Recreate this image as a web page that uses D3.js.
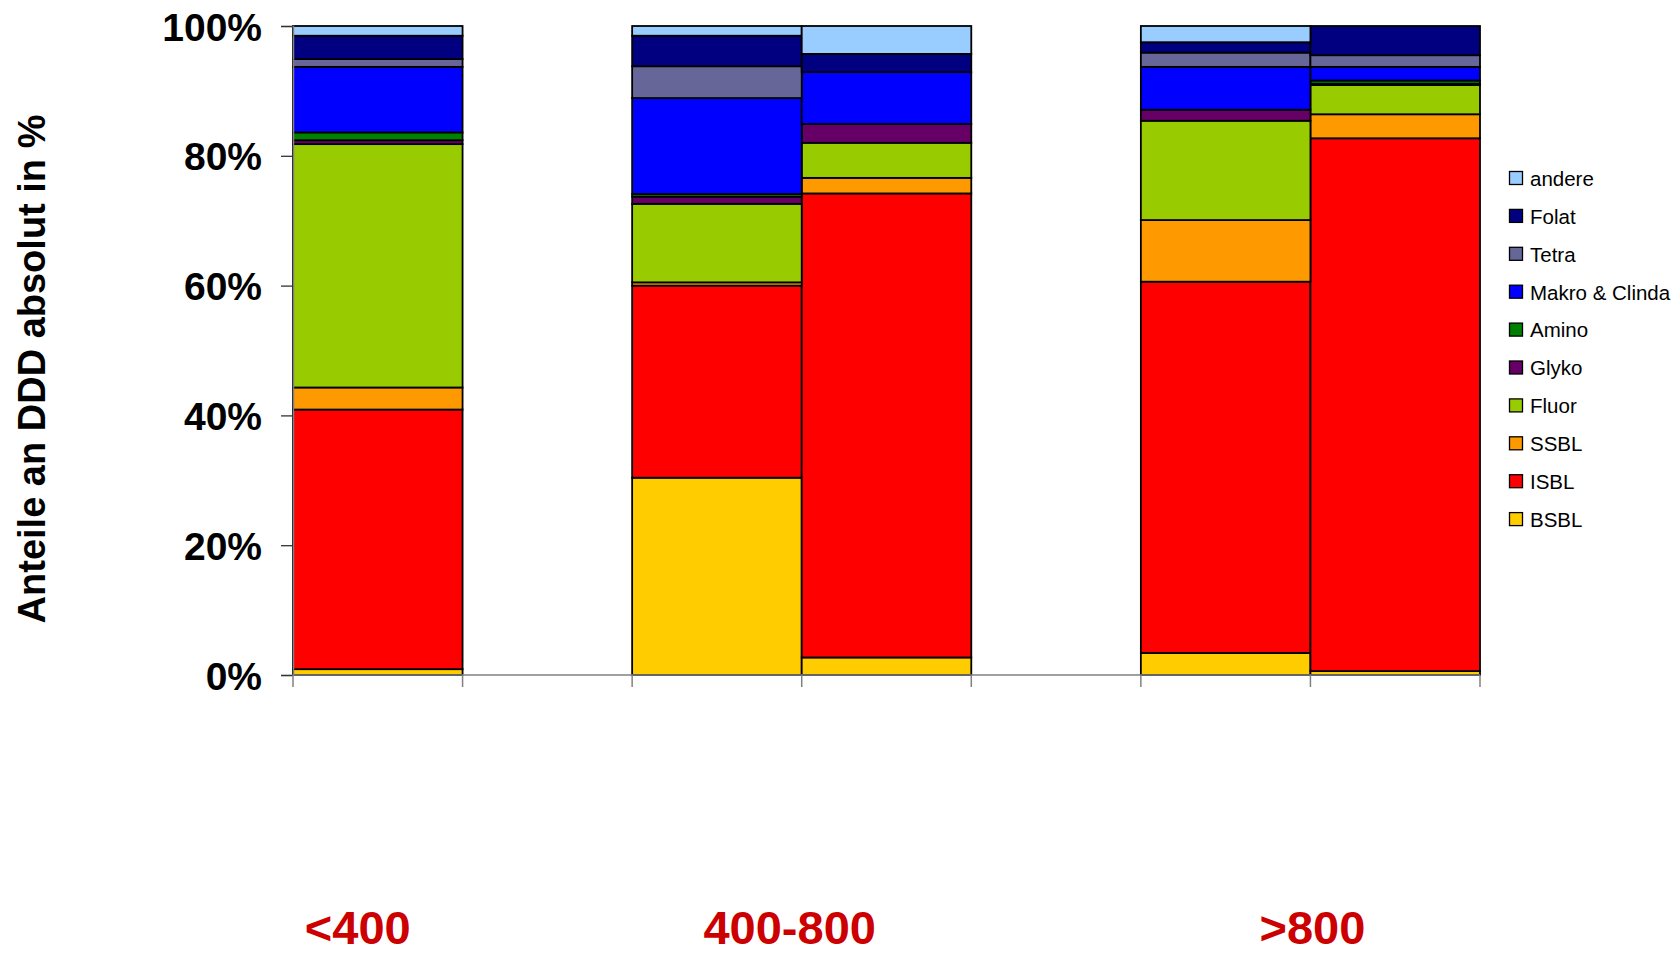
<!DOCTYPE html>
<html><head><meta charset="utf-8">
<script src="https://cdn.jsdelivr.net/npm/d3@7"></script>
<style>
body{margin:0;background:#fff;}
svg{display:block;font-family:"Liberation Sans",Arial,sans-serif;}
</style></head>
<body><svg id="c" width="1677" height="953"></svg>
<script>
// slots on the category axis (7 slots; slots 2 and 5 are empty)
const slots = ["1","2","3","4","5","6","7"];
const groupLabels = ["<400","400-800",">800"];
const groupSlots = [["1"],["3","4"],["6","7"]];
const yTicks = [0,0.2,0.4,0.6,0.8,1.0];
const seriesKeys = ["BSBL","ISBL","SSBL","Fluor","Glyko","Amino","Makro & Clinda","Tetra","Folat","andere"];
const seriesColors = ["#FFCC00","#FF0000","#FF9900","#99CC00","#660066","#008000","#0000FF","#666699","#000080","#99CCFF"];
// values in percent per slot (null = empty slot)
const BSBL   = [0.9, null, 30.4, 2.7, null, 3.4, 0.6];
const ISBL   = [40.0, null, 29.6, 71.5, null, 57.2, 82.1];
const SSBL   = [3.4, null, 0.5, 2.4, null, 9.5, 3.7];
const Fluor  = [37.5, null, 12.1, 5.4, null, 15.3, 4.5];
const Glyko  = [0.6, null, 1.1, 2.9, null, 1.7, 0.2];
const Amino  = [1.2, null, 0.4, 0, null, 0, 0.5];
const Makro  = [10.1, null, 14.8, 8.0, null, 6.6, 2.1];
const Tetra  = [1.2, null, 4.9, 0, null, 2.2, 1.8];
const Folat  = [3.6, null, 4.7, 2.8, null, 1.6, 4.5];
const andere = [1.5, null, 1.5, 4.3, null, 2.5, 0];
const seriesValues = [BSBL, ISBL, SSBL, Fluor, Glyko, Amino, Makro, Tetra, Folat, andere];

const svg = d3.select("#c");
const x = d3.scaleBand().domain(slots).range([293,1480]).padding(0);
const y = d3.scaleLinear().domain([0,1]).range([675,26]);
const color = d3.scaleOrdinal().domain(seriesKeys).range(seriesColors);

const table = slots.map((s,i)=>{
  const row = {slot:s, empty: seriesValues[0][i]===null};
  seriesKeys.forEach((k,j)=>{ row[k] = (seriesValues[j][i]||0)/100; });
  return row;
});
const stacked = d3.stack().keys(seriesKeys)(table.filter(d=>!d.empty));

// bars
const g = svg.append("g");
stacked.forEach(layer=>{
  g.selectAll(null).data(layer.filter(d=>d[1]-d[0]>0)).enter().append("rect")
    .attr("x", d=>x(d.data.slot))
    .attr("width", x.bandwidth())
    .attr("y", d=>y(d[1]))
    .attr("height", d=>y(d[0])-y(d[1]))
    .attr("fill", color(layer.key))
    .attr("stroke","#000").attr("stroke-width",1.8);
});

// y axis
const yAxis = svg.append("g").attr("transform","translate(293,0)")
  .call(d3.axisLeft(y).tickValues(yTicks).tickFormat(d3.format(".0%")).tickSize(12).tickPadding(19));
yAxis.select(".domain").attr("stroke","#808080").attr("stroke-width",1.5);
yAxis.selectAll(".tick line").attr("stroke","#333").attr("stroke-width",1.3);
yAxis.selectAll(".tick text").attr("font-size",39).attr("font-weight","bold")
  .attr("font-family","'Liberation Sans',Arial,sans-serif").attr("fill","#000").attr("dy","0.36em");

// x axis (ticks at slot boundaries)
const xAxisG = svg.append("g").attr("transform","translate(0,675)");
xAxisG.append("line").attr("x1",293).attr("x2",1480).attr("y1",0).attr("y2",0)
  .attr("stroke","#808080").attr("stroke-width",1.5);
const bounds = slots.map(s=>x(s)).concat([x(slots[slots.length-1])+x.bandwidth()]);
xAxisG.selectAll(null).data(bounds).enter().append("line")
  .attr("x1",d=>d).attr("x2",d=>d).attr("y1",0).attr("y2",12)
  .attr("stroke","#808080").attr("stroke-width",1.5);

// group labels
const labelOffsets = [-20, -12, 2];
groupLabels.forEach((lab,i)=>{
  const ss = groupSlots[i];
  const cx = (x(ss[0]) + x(ss[ss.length-1]) + x.bandwidth())/2 + labelOffsets[i];
  svg.append("text").attr("x",cx).attr("y",944).attr("text-anchor","middle")
    .attr("font-size",47).attr("font-weight","bold").attr("fill","#CC0000").text(lab);
});

// y label
svg.append("text").attr("transform","translate(45,369) rotate(-90)")
  .attr("text-anchor","middle").attr("font-size",38).attr("font-weight","bold")
  .text("Anteile an DDD absolut in %");

// legend
const legendKeys = seriesKeys.slice().reverse();
const lg = svg.append("g").attr("transform","translate(1509,171)");
legendKeys.forEach((k,i)=>{
  const row = lg.append("g").attr("transform",`translate(0,${i*37.9})`);
  row.append("rect").attr("x",0.5).attr("y",0.5).attr("width",13).attr("height",13)
    .attr("fill",color(k)).attr("stroke","#000").attr("stroke-width",1.3);
  row.append("text").attr("x",21).attr("y",7.5).attr("dy","0.36em")
    .attr("font-size",20.5).attr("fill","#000").text(k);
});
</script></body></html>
